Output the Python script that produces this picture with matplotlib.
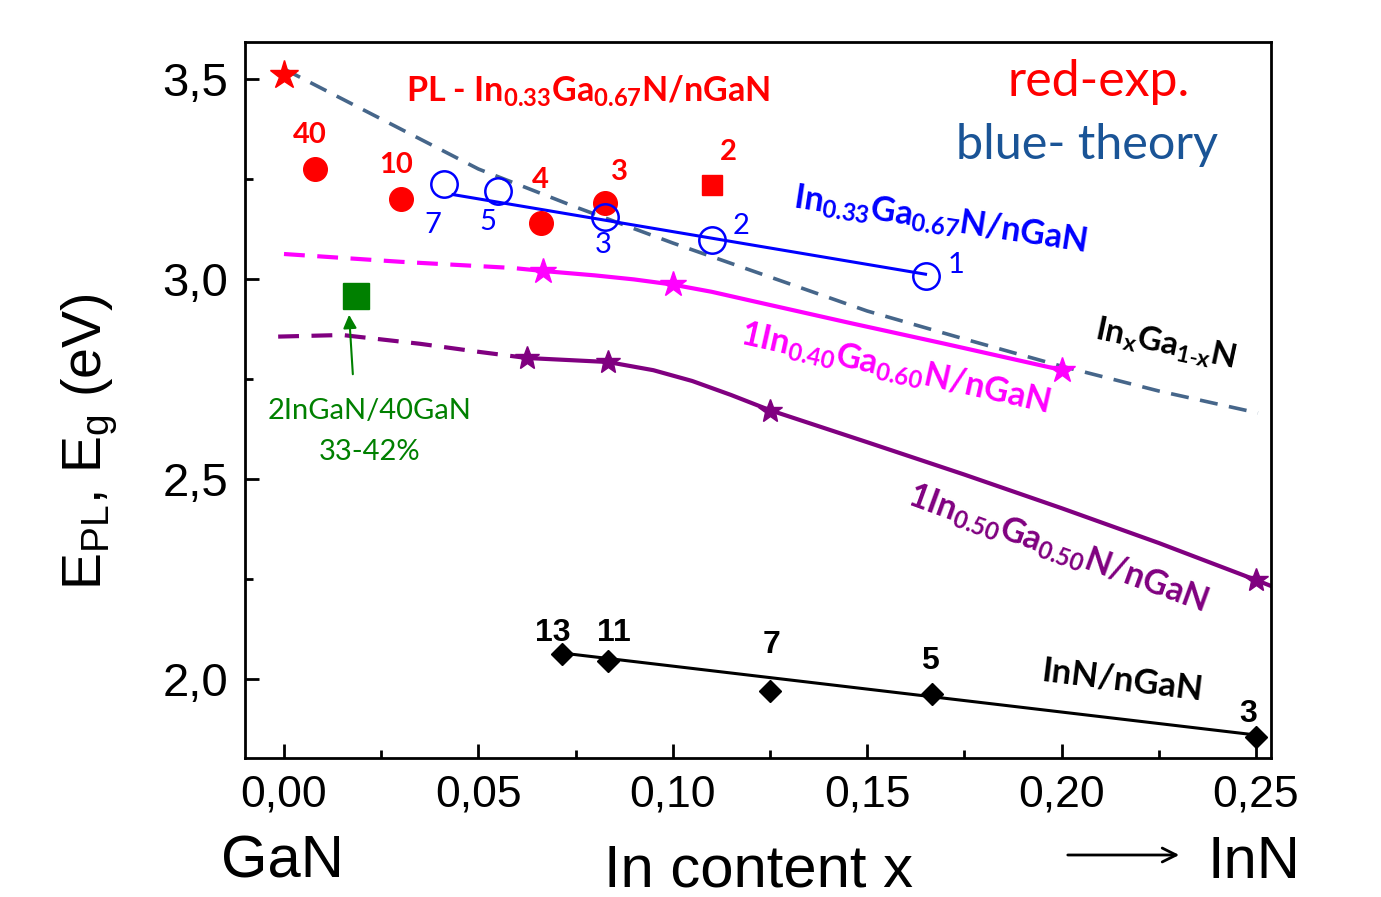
import matplotlib
matplotlib.use("Agg")
import matplotlib.pyplot as plt
from matplotlib.ticker import MultipleLocator, FuncFormatter

plt.rcParams['font.family'] = ['Lato', 'DejaVu Sans']
plt.rcParams['mathtext.default'] = 'regular'

# ---- data ----
# experiment (red)
red_star_x = [0.0]
red_star_y = [3.51]
red_x = [0.008, 0.030, 0.066, 0.0825]
red_y = [3.275, 3.20, 3.14, 3.19]
red_labels = ['40', '10', '4', '3']
red_sq_x = [0.110]
red_sq_y = [3.235]
red_sq_label = ['2']

# theory In0.33Ga0.67N/nGaN (blue)
blue_x = [0.04125, 0.055, 0.0825, 0.110, 0.165]
blue_y = [3.2375, 3.22, 3.155, 3.0975, 3.0075]
blue_labels = ['7', '5', '3', '2', '1']
blue_line_x = [0.0435, 0.165]
blue_line_y = [3.211, 3.012]

# InxGa1-xN band gap (dashed)
eg_x = [0.0, 0.025, 0.05, 0.075, 0.10, 0.125, 0.15, 0.175, 0.20, 0.225, 0.2505]
eg_y = [3.525, 3.40, 3.275, 3.18, 3.09, 3.005, 2.92, 2.85, 2.782, 2.72, 2.665]

# 1In0.40Ga0.60N/nGaN (magenta)
mag_x = [0.0667, 0.10, 0.20]
mag_y = [3.02, 2.9875, 2.7725]
mag_dash_x = [0.0, 0.03, 0.0589, 0.0667]
mag_dash_y = [3.0625, 3.043, 3.0275, 3.02]
mag_line_x = [0.0667, 0.08, 0.09, 0.10, 0.11, 0.12, 0.1456, 0.17, 0.20]
mag_line_y = [3.02, 3.009, 2.999, 2.986, 2.968, 2.946, 2.89, 2.838, 2.7725]

# 1In0.50Ga0.50N/nGaN (purple)
pur_x = [0.0625, 0.0833, 0.125, 0.25]
pur_y = [2.8025, 2.7925, 2.67, 2.2475]
pur_dash_x = [-0.0015, 0.015, 0.035, 0.05, 0.0625]
pur_dash_y = [2.856, 2.86, 2.838, 2.818, 2.8025]
pur_line_x = [0.0625, 0.0833, 0.095, 0.105, 0.115, 0.125, 0.15, 0.175, 0.20, 0.225, 0.25, 0.254]
pur_line_y = [2.8025, 2.7925, 2.772, 2.745, 2.71, 2.672, 2.592, 2.511, 2.427, 2.34, 2.2475, 2.232]

# InN/nGaN (black)
inn_x = [0.0714, 0.0833, 0.125, 0.1667, 0.25]
inn_y = [2.0625, 2.045, 1.97, 1.963, 1.855]
inn_labels = ['13', '11', '7', '5', '3']
inn_line_x = [0.0714, 0.25]
inn_line_y = [2.065, 1.86]

# 2InGaN/40GaN (green)
green_x = [0.0185]
green_y = [2.9575]

fig = plt.figure(figsize=(13.81, 8.97), dpi=100)
W, H = 1381, 897
ax = fig.add_axes([245 / W, 1 - 758 / H, (1271 - 245) / W, (758 - 42) / H])
ax.set_xlim(-0.01003, 0.25386)
ax.set_ylim(1.8025, 3.5925)

# lines
ax.plot(eg_x, eg_y, '--', color='#46668a', lw=2.6, dashes=(5, 3.2), zorder=2)
ax.plot(mag_dash_x, mag_dash_y, '--', color='#ff00ff', lw=3, dashes=(5, 3), zorder=2)
ax.plot(mag_line_x, mag_line_y, '-', color='#ff00ff', lw=3, zorder=2)
ax.plot(pur_dash_x, pur_dash_y, '--', color='#800080', lw=3, dashes=(5, 3), zorder=2)
ax.plot(pur_line_x, pur_line_y, '-', color='#800080', lw=3, zorder=2)
ax.plot(blue_line_x, blue_line_y, '-', color='#0000ff', lw=2.2, zorder=2)
ax.plot(inn_line_x, inn_line_y, '-', color='black', lw=2.2, zorder=2)

# markers
ax.plot(red_star_x, red_star_y, '*', color='red', ms=21, zorder=4)
ax.plot(red_x, red_y, 'o', color='red', ms=17, zorder=3)
ax.plot(red_sq_x, red_sq_y, 's', color='red', ms=14, zorder=3)
ax.plot(blue_x, blue_y, 'o', mfc='none', mec='#0000ff', mew=1.8, ms=19, zorder=4)
ax.plot(mag_x, mag_y, '*', color='#ff00ff', ms=19, zorder=4)
ax.plot(pur_x, pur_y, '*', color='#800080', ms=18, zorder=4)
ax.plot(inn_x, inn_y, 'D', color='black', ms=11, zorder=4)
ax.plot(green_x, green_y, 's', color='green', ms=19, zorder=4)

# point labels
red_lab_pos = [(0.0067, 3.36), (0.0288, 3.285), (0.0658, 3.2475), (0.0864, 3.2675)]
for lab, (px, py) in zip(red_labels, red_lab_pos):
    ax.text(px, py, lab, color='red', fontsize=21, fontweight='bold', ha='center', va='center')
ax.text(0.1142, 3.3175, red_sq_label[0], color='red', fontsize=21, fontweight='bold',
        ha='center', va='center')

blue_lab_pos = [(0.0383, 3.135), (0.0525, 3.1425), (0.082, 3.085), (0.1175, 3.1325), (0.1728, 3.035)]
for lab, (px, py) in zip(blue_labels, blue_lab_pos):
    ax.text(px, py, lab, color='#0000ff', fontsize=21, ha='center', va='center')

inn_lab_pos = [(0.0692, 2.115), (0.0849, 2.115), (0.1255, 2.085), (0.1662, 2.045), (0.2479, 1.9125)]
for lab, (px, py) in zip(inn_labels, inn_lab_pos):
    ax.text(px, py, lab, color='black', fontsize=23, fontweight='bold',
            family=['Liberation Sans', 'DejaVu Sans'], ha='center', va='center')

# curve labels
ax.text(0.0782, 3.47, 'PL - In$_{0.33}$Ga$_{0.67}$N/nGaN', color='red', fontsize=24.5,
        fontweight='bold', ha='center', va='center')
ax.text(0.1687, 3.1475, 'In$_{0.33}$Ga$_{0.67}$N/nGaN', color='#0000ff', fontsize=24.5,
        fontweight='bold', ha='center', va='center', rotation=-8.7, rotation_mode='anchor')
ax.text(0.2266, 2.835, 'In$_x$Ga$_{1\u2011x}$N', color='black', fontsize=24,
        fontweight='bold', ha='center', va='center', rotation=-12, rotation_mode='anchor')
ax.text(0.1571, 2.7775, '1In$_{0.40}$Ga$_{0.60}$N/nGaN', color='#ff00ff', fontsize=24.5,
        fontweight='bold', ha='center', va='center', rotation=-12.7, rotation_mode='anchor')
ax.text(0.199, 2.3275, '1In$_{0.50}$Ga$_{0.50}$N/nGaN', color='#800080', fontsize=24.5,
        fontweight='bold', ha='center', va='center', rotation=-20, rotation_mode='anchor')
ax.text(0.2155, 1.9975, 'InN/nGaN', color='black', fontsize=25,
        fontweight='bold', ha='center', va='center', rotation=-7, rotation_mode='anchor')
ax.text(0.0221, 2.67, '2InGaN/40GaN', color='green', fontsize=21, ha='center', va='center')
ax.text(0.0221, 2.5675, '33-42%', color='green', fontsize=21, ha='center', va='center')
ax.annotate('', xy=(0.0167, 2.9175), xytext=(0.01775, 2.755),
            arrowprops=dict(arrowstyle='-|>', color='green', lw=1.5, mutation_scale=20))

ax.text(0.2094, 3.4925, 'red-exp.', color='red', fontsize=36, ha='center', va='center')
ax.text(0.2065, 3.335, 'blue- theory', color='#1a5496', fontsize=35, ha='center', va='center')

# axes styling
for s in ax.spines.values():
    s.set_linewidth(2)
ax.xaxis.set_major_locator(MultipleLocator(0.05))
ax.xaxis.set_minor_locator(MultipleLocator(0.025))
ax.yaxis.set_major_locator(MultipleLocator(0.5))
ax.yaxis.set_minor_locator(MultipleLocator(0.25))
ax.tick_params(which='both', direction='in', top=False, right=False, width=2)
ax.tick_params(which='major', length=10)
ax.tick_params(which='minor', length=6)
ax.xaxis.set_major_formatter(FuncFormatter(lambda v, p: f'{v:.2f}'.replace('.', ',')))
ax.yaxis.set_major_formatter(FuncFormatter(lambda v, p: f'{v:.1f}'.replace('.', ',')))
for lab in ax.get_yticklabels():
    lab.set_family(['Liberation Sans', 'DejaVu Sans'])
    lab.set_fontsize(34)
for lab in ax.get_xticklabels():
    lab.set_family(['Liberation Sans', 'DejaVu Sans'])
    lab.set_fontsize(32)
ax.tick_params(axis='x', pad=12)
ax.tick_params(axis='y', pad=12)

fig.text(90 / W, 1 - 442 / H, 'E$_{PL}$, E$_{g}$ (eV)', fontsize=40, rotation=90,
         family=['Liberation Sans', 'DejaVu Sans'], ha='center', va='center')

fig.text(282 / W, 1 - 862 / H, 'GaN', fontsize=43, family=['Liberation Sans', 'DejaVu Sans'],
         ha='center', va='center')
fig.text(758 / W, 1 - 886 / H, 'In content x', fontsize=43,
         family=['Liberation Sans', 'DejaVu Sans'], ha='center', va='baseline')
fig.text(1254 / W, 1 - 862 / H, 'InN', fontsize=43, family=['Liberation Sans', 'DejaVu Sans'],
         ha='center', va='center')
fig.add_artist(matplotlib.patches.FancyArrowPatch((1065 / W, 1 - 855 / H), (1182 / W, 1 - 855 / H),
               transform=fig.transFigure, arrowstyle='->', mutation_scale=25, lw=2, color='black'))

fig.savefig('out.png', dpi=100)
